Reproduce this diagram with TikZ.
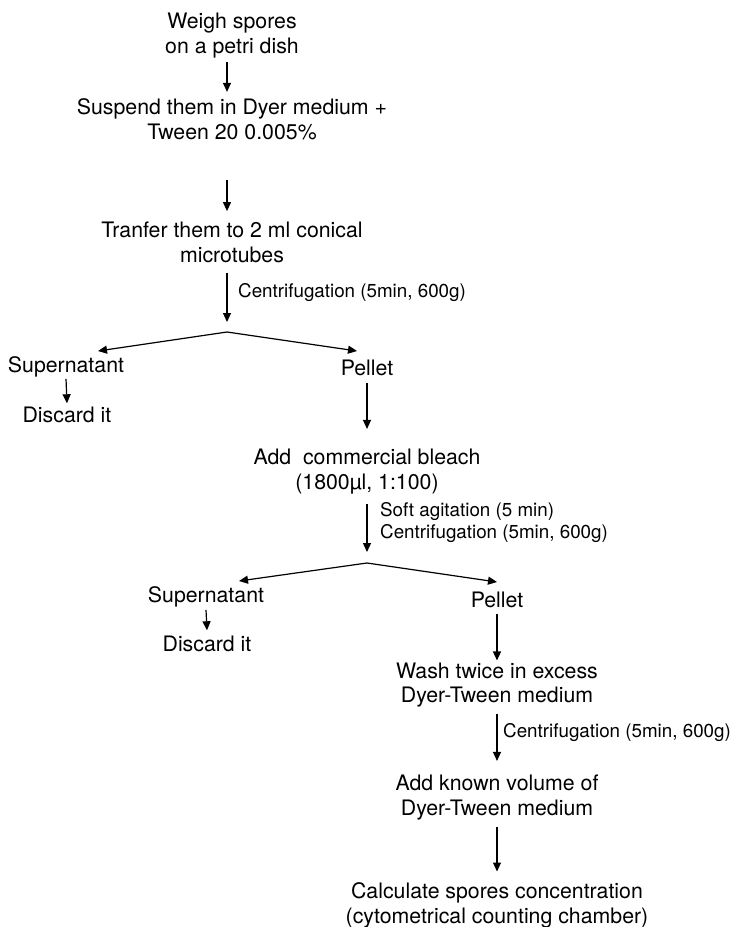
\documentclass[tikz,border=0pt]{standalone}
\usepackage{fontspec}
\setmainfont{TeX Gyre Heros}
\usetikzlibrary{arrows.meta}
\begin{document}
\begin{tikzpicture}[x=1pt,y=-1pt,
  stage/.style={inner sep=0pt, align=center, font=\fontsize{21.3}{24.5}\selectfont},
  cond/.style={inner sep=0pt, align=left, font=\fontsize{18.8}{22}\selectfont},
  flow/.style={line width=1.2pt, -{Triangle[length=9pt,width=8pt]}}]
\useasboundingbox (0,0) rectangle (741,927);

% main column
\node[stage] (w) at (232,35.5) {Weigh spores\\on a petri dish};
\node[stage] (s) at (232,119.5) {Suspend them in Dyer medium +\\Tween 20 0.005\%};
\node[stage] (t) at (232,242.5) {Tranfer them to 2 ml conical\\microtubes};
\node[cond, anchor=base west] (c1) at (238,297) {Centrifugation (5min, 600g)};
\coordinate (f1) at (227,332);
\coordinate (f1l) at (98,351);
\coordinate (f1r) at (357,351);

% first split
\node[stage, anchor=base] (sup1) at (66,372) {Supernatant};
\node[stage, anchor=base] (dis1) at (67,422) {Discard it};
\node[stage, anchor=base] (pel1) at (367,375) {Pellet};
\node[stage] (add) at (367,471.5) {Add~ commercial bleach\\(1800µl, 1:100)};
\node[cond, anchor=west] (c2) at (380,523) {Soft agitation (5 min)\\Centrifugation (5min, 600g)};
\coordinate (f2) at (367,563);
\coordinate (f2l) at (239,581);
\coordinate (f2r) at (497,582);

% second split
\node[stage, anchor=base] (sup2) at (206,602) {Supernatant};
\node[stage, anchor=base] (dis2) at (207,651) {Discard it};
\node[stage, anchor=base] (pel2) at (497,607) {Pellet};
\node[stage] (wash) at (497,685) {Wash twice in excess\\Dyer-Tween medium};
\node[cond, anchor=base west] (c3) at (503,737) {Centrifugation (5min, 600g)};
\node[stage] (known) at (497,797.5) {Add known volume of\\Dyer-Tween medium};
\node[stage, anchor=north] (calc) at (497,882.5) {Calculate spores concentration\\(cytometrical counting chamber)};

% connectors
\draw[flow] ([xshift=-5pt,yshift=-4pt]w.south) -- ([xshift=-5pt,yshift=7pt]s.north);
\draw[flow] ([xshift=-5pt,yshift=-40pt]s.south) -- ([xshift=-5pt,yshift=11pt]t.north);
\draw[flow, shorten >=10pt] ([xshift=-5pt,yshift=-10pt]t.south) -- (f1);
\draw[flow] (f1) -- (f1l);
\draw[flow] (f1) -- (f1r);
\draw[flow] ([yshift=-2pt]sup1.south) -- ([yshift=3pt]dis1.north);
\draw[flow] ([yshift=-7pt]pel1.south) -- ([yshift=20pt]add.north);
\draw[flow, shorten >=11pt] ([yshift=-10pt]add.south) -- (f2);
\draw[flow] (f2) -- (f2l);
\draw[flow] (f2) -- (f2r);
\draw[flow] ([yshift=-3pt]sup2.south) -- ([yshift=5pt]dis2.north);
\draw[flow] ([yshift=-6pt]pel2.south) -- ([yshift=2pt]wash.north);
\draw[flow] ([yshift=-6pt]wash.south) -- ([yshift=14pt]known.north);
\draw[flow] ([yshift=-7pt]known.south) -- ([yshift=11pt]calc.north);
\end{tikzpicture}
\end{document}
